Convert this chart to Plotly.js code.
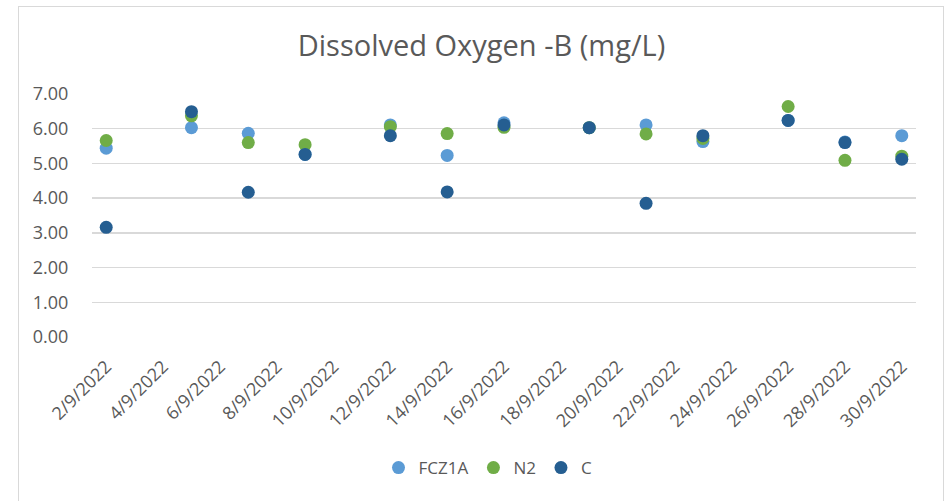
<!DOCTYPE html>
<html>
<head>
<meta charset="utf-8">
<script src="https://cdn.plot.ly/plotly-3.0.1.min.js"></script>
<style>
html,body{margin:0;padding:0;background:#fff;}
#wrap{position:relative;width:952px;height:501px;}
#chart{width:952px;height:501px;}
#frame{position:absolute;left:18px;top:6px;width:926px;height:510px;border:1px solid #d9d9d9;pointer-events:none;box-sizing:border-box;}
</style>
</head>
<body>
<div id="wrap"><div id="chart"></div><div id="frame"></div></div>
<script>
const dates = ["2022-09-02","2022-09-05","2022-09-07","2022-09-09","2022-09-12","2022-09-14","2022-09-16","2022-09-19","2022-09-21","2022-09-23","2022-09-26","2022-09-28","2022-09-30"];
const fcz1a = [5.44, 6.03, 5.87, 5.26, 6.11, 5.23, 6.17, 6.03, 6.11, 5.63, 6.24, 5.62, 5.80];
const n2    = [5.66, 6.37, 5.60, 5.54, 6.06, 5.86, 6.04, 6.03, 5.85, 5.72, 6.64, 5.09, 5.21];
const c     = [3.16, 6.49, 4.17, 5.26, 5.80, 4.18, 6.11, 6.03, 3.85, 5.80, 6.24, 5.60, 5.12];
const tickDates = ["2022-09-02","2022-09-04","2022-09-06","2022-09-08","2022-09-10","2022-09-12","2022-09-14","2022-09-16","2022-09-18","2022-09-20","2022-09-22","2022-09-24","2022-09-26","2022-09-28","2022-09-30"];
const tickLabels = ["2/9/2022","4/9/2022","6/9/2022","8/9/2022","10/9/2022","12/9/2022","14/9/2022","16/9/2022","18/9/2022","20/9/2022","22/9/2022","24/9/2022","26/9/2022","28/9/2022","30/9/2022"];
const yTicks = [0,1,2,3,4,5,6,7];

const FONT = "'Open Sans', 'Noto Sans', sans-serif";
const TXT = "#595959";

function tr(name, y, color){
  return {type:"scatter", mode:"markers", name:name, x:dates, y:y,
    marker:{color:color, size:13, line:{width:0}}};
}
const data = [tr("FCZ1A", fcz1a, "#5B9BD5"), tr("N2", n2, "#70AD47"), tr("C", c, "#255E91")];

const layout = {
  width:952, height:501,
  margin:{l:92, r:36, t:94, b:164.3, pad:0},
  paper_bgcolor:"#fff", plot_bgcolor:"#fff",
  font:{family:FONT, color:TXT, size:18},
  title:{text:"Dissolved Oxygen -B (mg/L)", font:{family:FONT, size:29, color:TXT},
    xref:"container", x:481.5/952, xanchor:"center", yref:"container", y:1-46/501, yanchor:"middle"},
  showlegend:true,
  legend:{orientation:"h", xref:"container", x:488/952, xanchor:"center", yref:"container", y:1-468/501, yanchor:"middle",
    font:{family:FONT, size:17, color:TXT}, itemwidth:30, tracegroupgap:0},
  xaxis:{type:"date", range:["2022-09-01 12:00","2022-09-30 12:00"], tickmode:"array",
    tickvals:tickDates, ticktext:tickLabels, tickangle:-45, showgrid:false, zeroline:false,
    showline:false, ticks:"outside", ticklen:11, tickcolor:"rgba(0,0,0,0)",
    tickfont:{family:FONT, size:18, color:TXT}},
  yaxis:{range:[0,7], tickmode:"array", tickvals:yTicks, ticktext:yTicks.map(v=>v.toFixed(2)),
    showgrid:true, gridcolor:"#d9d9d9", gridwidth:1.3, zeroline:false, showline:false,
    ticks:"outside", ticklen:19, tickcolor:"rgba(0,0,0,0)",
    tickfont:{family:FONT, size:18, color:TXT}}
};
Plotly.newPlot("chart", data, layout, {displayModeBar:false, staticPlot:true});
</script>
</body>
</html>
